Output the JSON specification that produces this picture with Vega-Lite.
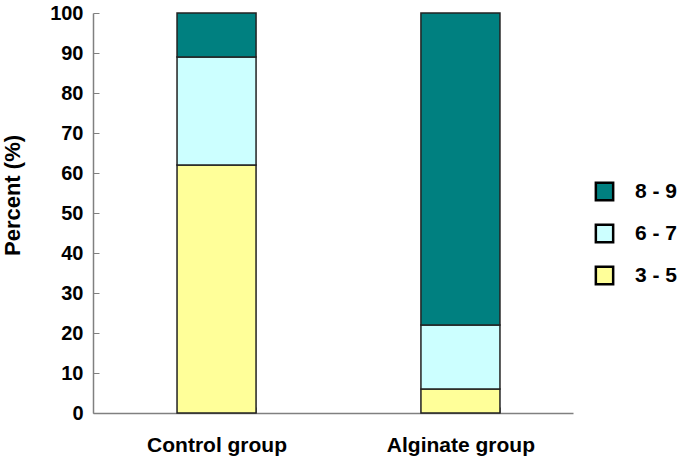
{
  "$schema": "https://vega.github.io/schema/vega-lite/v6.json",
  "width": 480,
  "height": 400,
  "autosize": {"type": "none"},
  "padding": {"left": 93, "top": 13, "right": 112, "bottom": 50},
  "background": "white",
  "data": {
    "values": [
      {"group": "Control group", "score": "3 - 5", "ord": 1, "percent": 62},
      {"group": "Control group", "score": "6 - 7", "ord": 2, "percent": 27},
      {"group": "Control group", "score": "8 - 9", "ord": 3, "percent": 11},
      {"group": "Alginate group", "score": "3 - 5", "ord": 1, "percent": 6},
      {"group": "Alginate group", "score": "6 - 7", "ord": 2, "percent": 16},
      {"group": "Alginate group", "score": "8 - 9", "ord": 3, "percent": 78}
    ]
  },
  "mark": {"type": "bar", "stroke": "#222222", "strokeWidth": 1.5},
  "encoding": {
    "x": {
      "field": "group",
      "type": "nominal",
      "sort": ["Control group", "Alginate group"],
      "scale": {"paddingInner": 0.676, "paddingOuter": 0.322, "align": 0.535},
      "axis": {
        "title": null,
        "labelAngle": 0,
        "labelFont": "Liberation Sans",
        "labelFontWeight": "bold",
        "labelFontSize": 21,
        "labelColor": "black",
        "labelPadding": 27,
        "tickBand": "extent",
        "tickSize": -6,
        "tickColor": "#808080",
        "domainColor": "#808080",
        "domainWidth": 1.5,
        "grid": false
      }
    },
    "y": {
      "field": "percent",
      "type": "quantitative",
      "stack": "zero",
      "scale": {"domain": [0, 100], "nice": false},
      "axis": {
        "title": "Percent (%)",
        "values": [0, 10, 20, 30, 40, 50, 60, 70, 80, 90, 100],
        "titleFont": "Liberation Sans",
        "titleFontWeight": "bold",
        "titleFontSize": 22,
        "titleColor": "black",
        "titleX": -69,
        "titleY": 182,
        "labelFont": "Liberation Sans",
        "labelFontWeight": "bold",
        "labelFontSize": 20,
        "labelColor": "black",
        "labelPadding": 16,
        "tickSize": -6,
        "tickColor": "#808080",
        "domainColor": "#808080",
        "domainWidth": 1.5,
        "grid": false
      }
    },
    "color": {
      "field": "score",
      "type": "nominal",
      "scale": {
        "domain": ["8 - 9", "6 - 7", "3 - 5"],
        "range": ["#008080", "#CCFFFF", "#FFFF99"]
      },
      "legend": {
        "title": null,
        "orient": "none",
        "legendX": 501,
        "legendY": 168,
        "symbolType": "square",
        "symbolSize": 300,
        "symbolStrokeColor": "black",
        "symbolStrokeWidth": 2.5,
        "symbolOpacity": 1,
        "labelFont": "Liberation Sans",
        "labelFontWeight": "bold",
        "labelFontSize": 21,
        "labelColor": "black",
        "labelOffset": 20,
        "rowPadding": 13
      }
    },
    "order": {"field": "ord", "type": "quantitative", "sort": "ascending"}
  },
  "config": {"view": {"stroke": null}}
}
